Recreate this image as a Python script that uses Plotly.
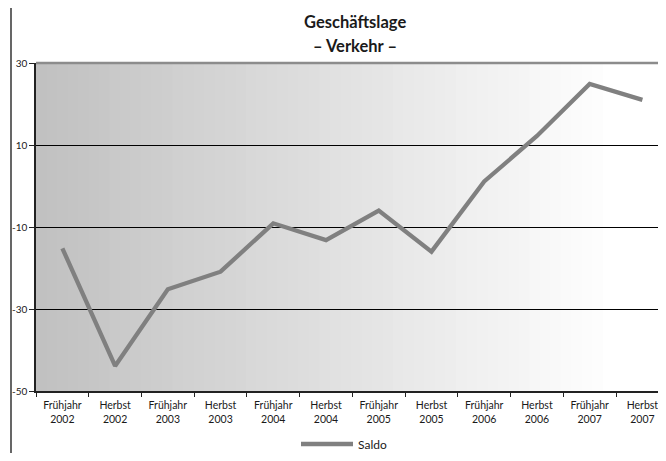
import plotly.graph_objects as go

# Halbjahre und Saldo-Werte
kategorien = ["Frühjahr<br>2002", "Herbst<br>2002", "Frühjahr<br>2003", "Herbst<br>2003",
              "Frühjahr<br>2004", "Herbst<br>2004", "Frühjahr<br>2005", "Herbst<br>2005",
              "Frühjahr<br>2006", "Herbst<br>2006", "Frühjahr<br>2007", "Herbst<br>2007"]
saldo = [-15.2, -43.9, -25.2, -20.9, -9.1, -13.2, -6.0, -16.0, 1.1, 12.2, 24.9, 21.0]
y_ticks = [-50, -30, -10, 10, 30]
y_tick_labels = ["-50", "-30", "-10", "10", "30"]

FONT = "Lato"

# Seite hat 8px body-Rand; Figur so klein, dass keine Scrollbalken entstehen.
# Zeichenfläche im Bild: x 36..666 (rechts abgeschnitten), y 63..391
PW, PH = 630, 328
KAT_BREITE = 52.73  # Pixel je Kategorie


def px(x):
    return (x - 36) / PW


def py(y):
    return (391 - y) / PH


fig = go.Figure()
fig.add_trace(go.Scatter(
    x=kategorien, y=saldo, mode="lines", name="Saldo",
    line=dict(color="#808080", width=4.3),
))

# grauer Verlauf im Hintergrund (links grau, rechts weiss, Verlauf bis Bild-x 612)
shapes = []
n = 60
ende = (612 - 36) / PW
for i in range(n):
    f = (i + 0.5) / n
    v = min(255, int(round(192 + 63 * f / ende)))
    shapes.append(dict(type="rect", xref="x domain", yref="y domain",
                       x0=i / n, x1=(i + 1) / n + 0.002, y0=0, y1=1,
                       fillcolor=f"rgb({v},{v},{v})", line_width=0, layer="below"))
# obere Begrenzung der Zeichenfläche
shapes.append(dict(type="line", xref="x domain", yref="y domain",
                   x0=0, x1=1.05, y0=1, y1=1, line=dict(color="#8c8c8c", width=2.5)))
# Rahmen um das ganze Diagramm (rechts und unten abgeschnitten)
shapes.append(dict(type="line", xref="paper", yref="paper",
                   x0=px(11), x1=1.5, y0=py(5), y1=py(5),
                   line=dict(color="black", width=1.2)))
shapes.append(dict(type="line", xref="paper", yref="paper",
                   x0=px(11), x1=px(11), y0=py(5), y1=py(560),
                   line=dict(color="black", width=1.2)))

fig.update_layout(
    width=658, height=445,
    margin=dict(l=28, r=0, t=55, b=62, autoexpand=False),
    paper_bgcolor="white", plot_bgcolor="white",
    font=dict(family=FONT, color="#1a1a1a", size=10),
    shapes=shapes,
    showlegend=True,
    legend=dict(orientation="h", x=px(296), xanchor="left",
                y=py(444), yanchor="middle",
                font=dict(size=12, family=FONT), itemwidth=52,
                bgcolor="rgba(0,0,0,0)"),
    annotations=[
        dict(text="<b>Geschäftslage</b>", xref="paper", yref="paper",
             x=px(355), y=py(22), showarrow=False, yanchor="middle",
             font=dict(size=16.5, family=FONT)),
        dict(text="<b>– Verkehr –</b>", xref="paper", yref="paper",
             x=px(355), y=py(46), showarrow=False, yanchor="middle",
             font=dict(size=16.5, family=FONT)),
    ],
)

fig.update_xaxes(
    range=[-0.5, -0.5 + PW / KAT_BREITE],
    showline=True, linecolor="#222", linewidth=1.5,
    ticks="outside", tickson="boundaries", ticklen=4, tickcolor="#222",
    showgrid=False, tickfont=dict(size=10.5), ticklabelstandoff=4,
    automargin=False,
)
fig.update_yaxes(
    range=[-50, 30], tickvals=y_ticks, ticktext=y_tick_labels,
    showline=True, linecolor="#222", linewidth=1.5,
    ticks="outside", ticklen=5, tickcolor="#222",
    showgrid=True, gridcolor="black", gridwidth=1, zeroline=False,
    tickfont=dict(size=10), automargin=False,
)

fig.write_html("out.html")
